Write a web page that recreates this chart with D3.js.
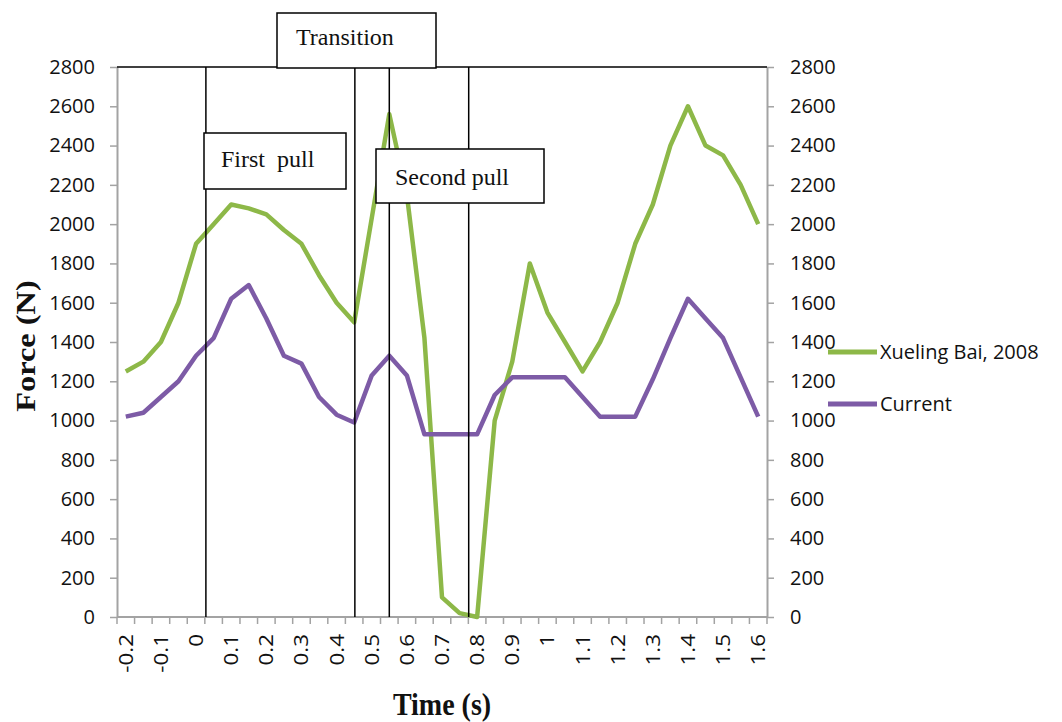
<!DOCTYPE html>
<html>
<head>
<meta charset="utf-8">
<script src="https://cdn.jsdelivr.net/npm/d3@7/dist/d3.min.js"></script>
<style>
  body { margin: 0; background: #fff; }
  text { fill: #111; }
</style>
</head>
<body>
<svg width="1062" height="722"></svg>
<script>
// time (s) of each category on the x axis
var times = [-0.2, -0.15, -0.1, -0.05, 0, 0.05, 0.1, 0.15, 0.2, 0.25, 0.3, 0.35, 0.4,
             0.45, 0.5, 0.55, 0.6, 0.65, 0.7, 0.75, 0.8, 0.85, 0.9, 0.95, 1, 1.05,
             1.1, 1.15, 1.2, 1.25, 1.3, 1.35, 1.4, 1.45, 1.5, 1.55, 1.6];

// force (N)
var xuelingBai = [1250, 1300, 1400, 1600, 1900, 2000, 2100, 2080, 2050, 1970, 1900, 1740, 1600,
                  1500, 2030, 2560, 2150, 1420, 100, 20, 0, 1000, 1300, 1800, 1550, 1400,
                  1250, 1400, 1600, 1900, 2100, 2400, 2600, 2400, 2350, 2200, 2000];
var current = [1020, 1040, 1120, 1200, 1330, 1420, 1620, 1690, 1520, 1330, 1290, 1120, 1030,
               990, 1230, 1330, 1230, 930, 930, 930, 930, 1130, 1220, 1220, 1220, 1220,
               1120, 1020, 1020, 1020, 1210, 1420, 1620, 1520, 1420, 1220, 1020];

var yTicks = [0, 200, 400, 600, 800, 1000, 1200, 1400, 1600, 1800, 2000, 2200, 2400, 2600, 2800];

// phase boundaries drawn as vertical lines (s)
var phaseTimes = [0.028, 0.452, 0.55, 0.776];

var seriesNames = ["Xueling Bai, 2008", "Current"];
var seriesColors = ["#8db848", "#7d5ba6"];

var svg = d3.select("svg"),
    plotLeft = 117, plotRight = 767, plotTop = 67, plotBottom = 617;

svg.append("rect").attr("width", 1062).attr("height", 722).attr("fill", "#fff");

var x = d3.scaleBand()
    .domain(d3.range(times.length))
    .range([plotLeft, plotRight])
    .padding(0);
var bw = x.bandwidth();

var y = d3.scaleLinear().domain([0, 2800]).range([plotBottom, plotTop]);

var t = d3.scaleLinear()
    .domain([times[0], times[times.length - 1]])
    .range([x(0) + bw / 2, x(times.length - 1) + bw / 2]);

var axisGray = "#a3a3a3";

// y axes
var yLeft = svg.append("g")
    .attr("transform", "translate(" + plotLeft + ",0)")
    .call(d3.axisLeft(y).tickValues(yTicks).tickFormat(d3.format("d"))
      .tickSize(7).tickSizeOuter(0).tickPadding(15));
var yRight = svg.append("g")
    .attr("transform", "translate(" + plotRight + ",0)")
    .call(d3.axisRight(y).tickValues(yTicks).tickFormat(d3.format("d"))
      .tickSize(7).tickSizeOuter(0).tickPadding(16));

[yLeft, yRight].forEach(function(g) {
  g.select(".domain").attr("stroke", axisGray).attr("stroke-width", 2);
  g.selectAll(".tick line").attr("stroke", axisGray).attr("stroke-width", 1.5);
  g.selectAll(".tick text")
      .attr("font-family", "Open Sans")
      .attr("font-size", 20)
      .attr("fill", "#111");
});

// x axis: ticks between categories
var xAxis = svg.append("g");
xAxis.append("line")
    .attr("x1", plotLeft).attr("x2", plotRight)
    .attr("y1", plotBottom).attr("y2", plotBottom)
    .attr("stroke", axisGray).attr("stroke-width", 2);
xAxis.selectAll(".xt")
    .data(d3.range(times.length + 1))
    .enter().append("line")
      .attr("class", "xt")
      .attr("x1", function(i) { return plotLeft + i * bw; })
      .attr("x2", function(i) { return plotLeft + i * bw; })
      .attr("y1", plotBottom).attr("y2", plotBottom + 7)
      .attr("stroke", axisGray).attr("stroke-width", 1.5);

xAxis.selectAll(".xl")
    .data(times.filter(function(d, i) { return i % 2 === 0; }))
    .enter().append("text")
      .attr("class", "xl")
      .attr("transform", function(d) {
        return "translate(" + (x(times.indexOf(d)) + bw / 2) + ",634) rotate(-90) scale(1.12,1)";
      })
      .attr("dy", "0.35em")
      .attr("text-anchor", "end")
      .attr("font-family", "Open Sans")
      .attr("font-size", 20)
      .text(function(d) { return String(d); });

// axis titles
svg.append("text")
    .attr("transform", "translate(442,715) scale(1,1.16)")
    .attr("text-anchor", "middle")
    .attr("font-family", "Liberation Serif")
    .attr("font-weight", "bold")
    .attr("font-size", 28)
    .text("Time (s)");

svg.append("text")
    .attr("transform", "translate(35,346) rotate(-90) scale(1.2,1)")
    .attr("text-anchor", "middle")
    .attr("font-family", "Liberation Serif")
    .attr("font-weight", "bold")
    .attr("font-size", 27)
    .text("Force (N)");

// series
var line = d3.line()
    .x(function(d, i) { return x(i) + bw / 2; })
    .y(function(d) { return y(d); });

[xuelingBai, current].forEach(function(s, k) {
  svg.append("path")
      .datum(s)
      .attr("d", line)
      .attr("fill", "none")
      .attr("stroke", seriesColors[k])
      .attr("stroke-width", 4.5)
      .attr("stroke-linejoin", "round");
});

// phase lines
svg.append("line")
    .attr("x1", plotLeft).attr("x2", plotRight)
    .attr("y1", plotTop).attr("y2", plotTop)
    .attr("stroke", "#000").attr("stroke-width", 1.5);
svg.selectAll(".phase")
    .data(phaseTimes)
    .enter().append("line")
      .attr("class", "phase")
      .attr("x1", function(d) { return t(d); })
      .attr("x2", function(d) { return t(d); })
      .attr("y1", plotTop).attr("y2", plotBottom)
      .attr("stroke", "#000").attr("stroke-width", 1.5);

// phase boxes
var boxes = [
  {label: "Transition", x: 277, y: 13, w: 159, h: 55, tx: 296, ty: 45},
  {label: "First  pull", x: 204, y: 133, w: 142, h: 56, tx: 221, ty: 167},
  {label: "Second pull", x: 376, y: 149, w: 168, h: 54, tx: 395, ty: 185}
];
var box = svg.selectAll(".box")
    .data(boxes)
    .enter().append("g")
      .attr("class", "box");
box.append("rect")
    .attr("x", function(d) { return d.x; })
    .attr("y", function(d) { return d.y; })
    .attr("width", function(d) { return d.w; })
    .attr("height", function(d) { return d.h; })
    .attr("fill", "#fff")
    .attr("stroke", "#000")
    .attr("stroke-width", 1.5);
box.append("text")
    .attr("x", function(d) { return d.tx; })
    .attr("y", function(d) { return d.ty; })
    .attr("font-family", "Liberation Serif")
    .attr("font-size", 24)
    .style("white-space", "pre")
    .text(function(d) { return d.label; });

// legend
var legend = svg.selectAll(".legend")
    .data(seriesNames)
    .enter().append("g")
      .attr("class", "legend")
      .attr("transform", function(d, i) { return "translate(828," + (352 + i * 52) + ")"; });
legend.append("line")
    .attr("x1", 0).attr("x2", 49)
    .attr("stroke", function(d, i) { return seriesColors[i]; })
    .attr("stroke-width", 5);
legend.append("text")
    .attr("x", 52)
    .attr("dy", "0.35em")
    .attr("font-family", "Open Sans")
    .attr("font-size", 20)
    .text(function(d) { return d; });
</script>
</body>
</html>
